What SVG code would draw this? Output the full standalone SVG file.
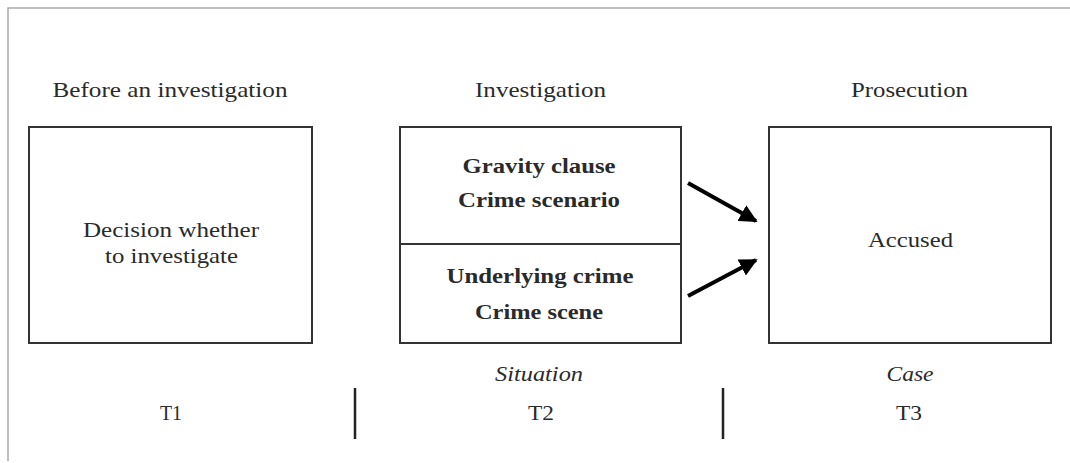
<svg xmlns="http://www.w3.org/2000/svg" width="1070" height="463" viewBox="0 0 1070 463">
<style>
.t{font-family:"Liberation Serif","Times New Roman",serif;font-size:22px;fill:#2a2a2a;text-anchor:middle}
.b{font-weight:bold;font-size:22px}
.i{font-style:italic}
.box{fill:#fff;stroke:#333;stroke-width:2}
.frame{fill:none;stroke:#aaa;stroke-width:1.5}
.conn{stroke:#000;stroke-width:4;fill:none}
.sep{stroke:#222;stroke-width:2.5}
</style>
<defs>
<marker id="ah" viewBox="0 0 10 10" refX="9" refY="5" markerWidth="4.5" markerHeight="4.5" orient="auto" markerUnits="strokeWidth">
<path d="M0,0 L10,5 L0,10 z" fill="#000"/>
</marker>
</defs>
<rect width="1070" height="463" fill="#fff"/>
<path class="frame" d="M8,461 V8 H1070"/>
<g id="headers">
<text class="t" x="170" y="97" textLength="235" lengthAdjust="spacingAndGlyphs">Before an investigation</text>
<text class="t" x="540.5" y="97" textLength="131" lengthAdjust="spacingAndGlyphs">Investigation</text>
<text class="t" x="909.5" y="97" textLength="117" lengthAdjust="spacingAndGlyphs">Prosecution</text>
</g>
<g id="node-decision">
<rect class="box" x="29" y="127" width="283" height="216"/>
<text class="t" x="171" y="237" textLength="176" lengthAdjust="spacingAndGlyphs">Decision whether</text>
<text class="t" x="171.5" y="263" textLength="133" lengthAdjust="spacingAndGlyphs">to investigate</text>
</g>
<g id="node-investigation">
<rect class="box" x="400" y="127" width="281" height="216"/>
<line x1="400" y1="244" x2="681" y2="244" stroke="#333" stroke-width="2"/>
<text class="t b" x="539" y="173" textLength="153" lengthAdjust="spacingAndGlyphs">Gravity clause</text>
<text class="t b" x="539" y="207" textLength="162" lengthAdjust="spacingAndGlyphs">Crime scenario</text>
<text class="t b" x="540" y="283" textLength="187" lengthAdjust="spacingAndGlyphs">Underlying crime</text>
<text class="t b" x="539" y="319" textLength="128" lengthAdjust="spacingAndGlyphs">Crime scene</text>
</g>
<g id="node-accused">
<rect class="box" x="769" y="127" width="282" height="216"/>
<text class="t" x="910.5" y="247" textLength="85" lengthAdjust="spacingAndGlyphs">Accused</text>
</g>
<g id="connectors">
<line class="conn" x1="688" y1="183" x2="756" y2="221" marker-end="url(#ah)"/>
<line class="conn" x1="688" y1="296" x2="756" y2="260" marker-end="url(#ah)"/>
</g>
<g id="timeline">
<text class="t i" x="539" y="381" textLength="88" lengthAdjust="spacingAndGlyphs">Situation</text>
<text class="t i" x="910" y="381" textLength="47" lengthAdjust="spacingAndGlyphs">Case</text>
<text class="t" x="171" y="420" textLength="22" lengthAdjust="spacingAndGlyphs">T1</text>
<text class="t" x="541" y="420" textLength="26" lengthAdjust="spacingAndGlyphs">T2</text>
<text class="t" x="909" y="420" textLength="26" lengthAdjust="spacingAndGlyphs">T3</text>
<line class="sep" x1="355" y1="388" x2="355" y2="439"/>
<line class="sep" x1="723" y1="388" x2="723" y2="439"/>
</g>
</svg>
